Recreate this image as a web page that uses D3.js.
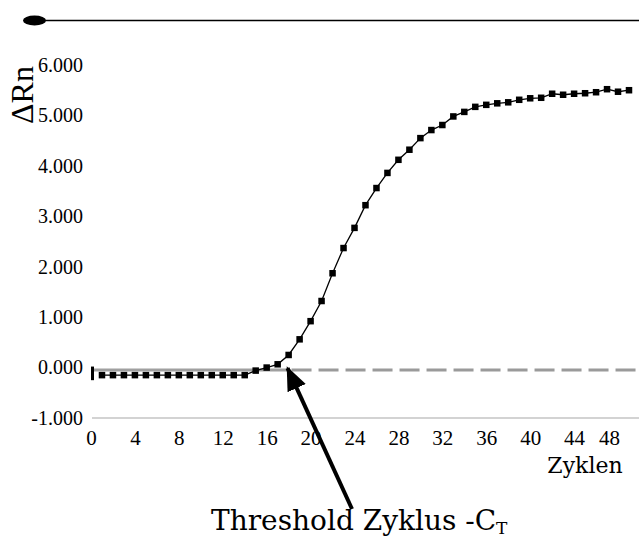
<!DOCTYPE html>
<html>
<head>
<meta charset="utf-8">
<script src="https://cdnjs.cloudflare.com/ajax/libs/d3/7.8.5/d3.min.js"></script>
<style>
  body { margin: 0; background: #fff; }
  svg { display: block; }
</style>
</head>
<body>
<div id="chart"></div>
<script>
// qPCR amplification curve (Delta Rn vs cycles)

const cycles = d3.range(1, 50)
const deltaRn = [
  -0.15, -0.15, -0.15, -0.15, -0.15, -0.15, -0.15, -0.15, -0.15, -0.15,
  -0.15, -0.15, -0.15, -0.15, -0.06, 0.00, 0.065, 0.25, 0.56, 0.92,
  1.32, 1.87, 2.37, 2.77, 3.22, 3.56, 3.86, 4.12, 4.32, 4.55,
  4.71, 4.81, 4.98, 5.07, 5.17, 5.21, 5.24, 5.26, 5.31, 5.34,
  5.35, 5.43, 5.41, 5.43, 5.44, 5.46, 5.52, 5.47, 5.50
]
const xTicks = [0, 4, 8, 12, 16, 20, 24, 28, 32, 36, 40, 44, 48]
const yTicks = [-1, 0, 1, 2, 3, 4, 5, 6]
const threshold = -0.05
const ctCycle = 17.9

const width = 639, height = 538

const svg = d3.select('#chart').append('svg')
    .attr('width', width)
    .attr('height', height)

let xScale = d3.scaleLinear().domain([0, 49]).range([91, 629])
let yScale = d3.scaleLinear().domain([-1, 6]).range([418, 65])

const serif = '"Liberation Serif", "Times New Roman", serif'
const wide = '"DejaVu Serif", serif'

// header decoration
svg.append('ellipse')
    .attr('cx', 34.5).attr('cy', 20.5)
    .attr('rx', 11.5).attr('ry', 5)
    .style('fill', '#000')
svg.append('line')
    .attr('x1', 45).attr('x2', width)
    .attr('y1', 20.5).attr('y2', 20.5)
    .style('stroke', '#000').style('stroke-width', 1.5)

// bottom axis line
svg.append('line')
    .attr('x1', xScale(0) + 1).attr('x2', width)
    .attr('y1', yScale(-1)).attr('y2', yScale(-1))
    .style('stroke', '#c4c4c4').style('stroke-width', 1.5)

// threshold line: solid up to Ct, dashed after
svg.append('line')
    .attr('x1', xScale(0)).attr('x2', xScale(ctCycle))
    .attr('y1', yScale(threshold)).attr('y2', yScale(threshold))
    .style('stroke', '#a0a0a0').style('stroke-width', 3)
svg.append('line')
    .attr('x1', xScale(ctCycle) + 4).attr('x2', width)
    .attr('y1', yScale(threshold)).attr('y2', yScale(threshold))
    .style('stroke', '#9a9a9a').style('stroke-width', 3)
    .style('stroke-dasharray', '20,7')

// small stub at the origin
svg.append('rect')
    .attr('x', xScale(0))
    .attr('y', yScale(0.02))
    .attr('width', 3)
    .attr('height', yScale(-0.25) - yScale(0.02))
    .style('fill', '#000')

// Y tick labels
svg.append('g')
    .attr('transform', `translate(${xScale(0) - 8}, 0)`)
    .call(d3.axisLeft(yScale).tickValues(yTicks).tickSize(0)
        .tickFormat(d => d.toFixed(3)))
    .call(g => g.select('.domain').remove())
    .selectAll('text')
        .attr('x', 0)
        .style('font-family', serif)
        .style('font-size', '20px')
        .style('fill', '#000')

// X tick labels
svg.append('g')
    .attr('transform', `translate(0, ${yScale(-1)})`)
    .call(d3.axisBottom(xScale).tickValues(xTicks).tickSize(0))
    .call(g => g.select('.domain').remove())
    .selectAll('text')
        .attr('y', 12)
        .attr('dx', d => d === 48 ? -9 : 0)
        .style('font-family', serif)
        .style('font-size', '21px')
        .style('fill', '#000')

// axis titles
svg.append('text')
    .attr('transform', `translate(33, 95) rotate(-90)`)
    .style('text-anchor', 'middle')
    .style('font-family', serif)
    .style('font-size', '32px')
    .text('ΔRn')

svg.append('text')
    .attr('x', 585).attr('y', 473)
    .style('text-anchor', 'middle')
    .style('font-family', wide)
    .style('font-size', '22px')
    .text('Zyklen')

// curve
const points = cycles.map((c, i) => ({c: c, v: deltaRn[i]}))

svg.append('path')
    .datum(points)
    .attr('d', d3.line().x(d => xScale(d.c)).y(d => yScale(d.v)))
    .style('fill', 'none')
    .style('stroke', '#000')
    .style('stroke-width', 1.3)

svg.selectAll('rect.pt')
    .data(points)
    .enter()
    .append('rect')
    .attr('class', 'pt')
    .attr('x', d => xScale(d.c) - 3.25)
    .attr('y', d => yScale(d.v) - 3.25)
    .attr('width', 6.5)
    .attr('height', 6.5)
    .style('fill', '#000')

// arrow to Ct
svg.append('defs').append('marker')
    .attr('id', 'head')
    .attr('viewBox', '0 0 12 10')
    .attr('refX', 11).attr('refY', 5)
    .attr('markerWidth', 6).attr('markerHeight', 5)
    .attr('markerUnits', 'strokeWidth')
    .attr('orient', 'auto')
    .append('path')
        .attr('d', 'M0,0 L12,5 L0,10 z')
        .style('fill', '#000')

svg.append('line')
    .attr('x1', 352).attr('y1', 509)
    .attr('x2', xScale(ctCycle)).attr('y2', yScale(threshold) - 2)
    .style('stroke', '#000')
    .style('stroke-width', 4)
    .attr('marker-end', 'url(#head)')

// caption
const cap = svg.append('text')
    .attr('x', 211).attr('y', 530)
    .style('font-family', wide)
    .style('font-size', '28px')
    .text('Threshold Zyklus -C')
cap.append('tspan')
    .attr('dy', 4)
    .style('font-size', '17px')
    .text('T')
</script>
</body>
</html>
